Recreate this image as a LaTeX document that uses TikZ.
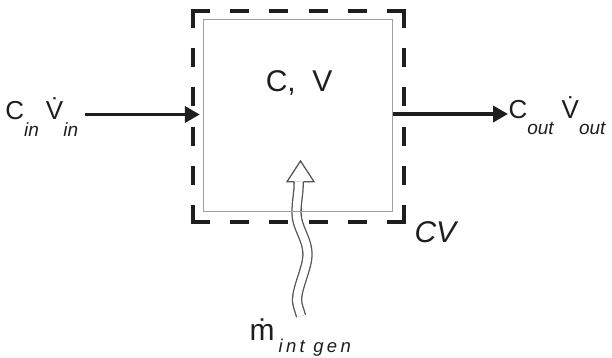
\documentclass[tikz,border=0pt]{standalone}
\usepackage{fontspec}
\setmainfont{Liberation Sans}
\usetikzlibrary{arrows.meta}
\definecolor{ink}{RGB}{30,30,30}
\definecolor{boxgray}{RGB}{160,160,160}
\definecolor{wavegray}{RGB}{85,85,85}
\newcommand{\insub}[2]{\raisebox{-#1pt}{\fontsize{19}{19}\selectfont\itshape #2}}
\tikzset{
  cvdash/.style={draw=ink, line width=4pt, line cap=rect, dash pattern=on 15pt off 24.2pt},
  innerbox/.style={draw=boxgray, line width=1pt, minimum width=189.4pt, minimum height=191.7pt, inner sep=0pt},
  flowarrow/.style={draw=ink, line width=3.7pt, -{Triangle[length=15pt,width=16pt]}},
  wave/.style={draw=wavegray, line width=1.3pt, double=white, double distance=7.8pt},
  wavehead/.style={draw=wavegray, line width=1.3pt, line join=miter},
  lbl/.style={text=ink, inner sep=0pt, outer sep=0pt},
}
\begin{document}
\begin{tikzpicture}[x=1pt,y=-1pt]
\useasboundingbox (0,0) rectangle (612,358);
% control volume (dashed)
\coordinate (o1) at (193,11);
\coordinate (o2) at (404,11);
\coordinate (o3) at (404,222);
\coordinate (o4) at (193,222);
\draw[cvdash] (o1) -- (o2);
\draw[cvdash] (o2) -- (o3);
\draw[cvdash] (o3) -- (o4);
\draw[cvdash] (o4) -- (o1);
% wavy generation arrow
\coordinate (wb) at (301,316);
\coordinate (wt) at (298.7,181.7);
\coordinate (hl) at (294.15,181.7);
\coordinate (hr) at (303.25,181.7);
\coordinate (hbl) at (287,181.7);
\coordinate (hbr) at (314,181.7);
\coordinate (htip) at (300.5,161);
\draw[wave] (wb) .. controls (299.5,310) and (297,305) .. (297,300)
  .. controls (297,288) and (307.5,267) .. (307.5,255)
  .. controls (307.5,238) and (296.5,228) .. (296.5,213)
  .. controls (296.5,200) and (298.7,195) .. (wt);
\draw[wavehead] (hl) -- (hbl) -- (htip) -- (hbr) -- (hr);
% inner box
\node[innerbox] (inner) at (298,115.85) {};
% labels
\node[lbl, anchor=base west] (cv) at (265.8,92) {\fontsize{30}{30}\selectfont C,\hspace{16.5pt}V};
\node[lbl, anchor=base west] (cvlbl) at (414.5,242) {\fontsize{30}{30}\selectfont\itshape CV};
\node[lbl, anchor=base west] (cin) at (5.4,119.3) {\fontsize{26}{26}\selectfont C\insub{17.4}{in}\hspace{7pt}\.{V}\insub{17.4}{in}};
\node[lbl, anchor=base west] (cout) at (508.5,118.5) {\fontsize{26}{26}\selectfont C\insub{16.5}{out}\hspace{8pt}\.{V}\insub{16.5}{out}};
\node[lbl, anchor=base west] (mgen) at (249.7,340.5) {\fontsize{30}{30}\selectfont\.{m}\hspace{4pt}\raisebox{-12pt}{\fontsize{18.5}{19}\selectfont\itshape\addfontfeature{LetterSpace=18}int gen}};
% flows
\coordinate (inA) at (85,114.5);
\coordinate (outA) at (508,114);
\draw[flowarrow, shorten >=3pt] (inA) -- (inner.west |- inA);
\draw[flowarrow] (inner.east |- outA) -- (outA);
\end{tikzpicture}
\end{document}
